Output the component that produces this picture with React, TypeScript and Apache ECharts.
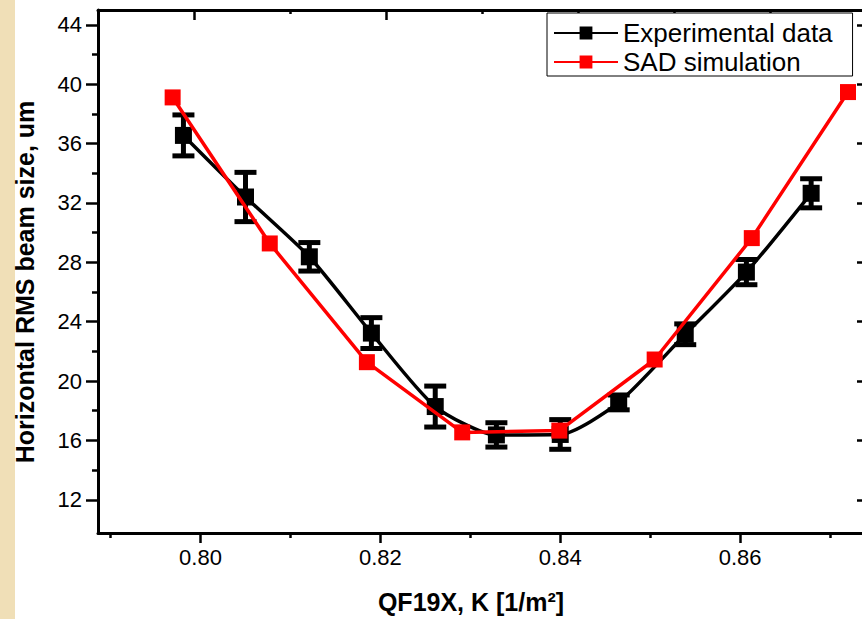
import React, { useEffect, useRef } from "react";
import * as echarts from "echarts";

// Experimental data (black) with error bars
const expX = [0.7981, 0.8050, 0.8121, 0.8190, 0.8261, 0.8329, 0.8400, 0.8465, 0.8539, 0.8607, 0.8679];
const expY = [36.55, 32.40, 28.37, 23.23, 18.28, 16.37, 16.40, 18.56, 23.15, 27.34, 32.65];
const expErr = [1.38, 1.66, 0.96, 1.04, 1.38, 0.82, 1.0, 0.5, 0.7, 0.85, 0.98];

// SAD simulation (red)
const simX = [0.7969, 0.8077, 0.8185, 0.8291, 0.8399, 0.8505, 0.8613, 0.8720];
const simY = [39.11, 29.27, 21.27, 16.54, 16.66, 21.45, 29.63, 39.47];

// Axis ticks
const xMajorTicks = [0.80, 0.82, 0.84, 0.86];
const xMinorTicks = [0.79, 0.81, 0.83, 0.85, 0.87];
const yMajorTicks = [12, 16, 20, 24, 28, 32, 36, 40, 44];
const yMinorTicks = [14, 18, 22, 26, 30, 34, 38, 42];
const topMajorTicks = [1, 3, 5, 7];
const topMinorTicks = [2, 4, 6];

const XMIN = 0.7886;
const XMAX = 0.874;
const YMIN = 9.76;
const YMAX = 45.0;

const FONT = "'Liberation Sans', Arial, sans-serif";

export default function App() {
  const ref = useRef<HTMLDivElement>(null);

  useEffect(() => {
    const chart = echarts.init(ref.current!, null, { renderer: "svg" });
    const gridRect = { left: 98, top: 10, right: -4, bottom: 86, outerBoundsMode: "none" as any };
    const axisLine = { show: true, lineStyle: { color: "#000", width: 3 } };
    const noLine = { show: false };

    const option: any = {
      animation: false,
      backgroundColor: "#fff",
      grid: [
        { ...gridRect },
        { ...gridRect },
      ],
      xAxis: [
        {
          gridIndex: 0, type: "value", position: "bottom", min: XMIN, max: XMAX,
          axisLine,
          axisTick: { show: true, customValues: xMajorTicks, length: 10, inside: false, lineStyle: { color: "#000", width: 2.5 } },
          axisLabel: {
            show: true, customValues: xMajorTicks, margin: 13, fontSize: 22, color: "#000", fontFamily: FONT,
            formatter: (v: number) => v.toFixed(2),
          },
          splitLine: { show: false },
        },
        {
          gridIndex: 0, type: "value", position: "top", min: 0, max: 8,
          axisLine,
          axisTick: { show: true, customValues: topMajorTicks, length: 10, inside: true, lineStyle: { color: "#000", width: 2.5 } },
          axisLabel: { show: false },
          splitLine: { show: false },
        },
        {
          gridIndex: 1, type: "value", position: "bottom", min: XMIN, max: XMAX,
          axisLine: noLine,
          axisTick: { show: true, customValues: xMinorTicks, length: 5, inside: false, lineStyle: { color: "#000", width: 2.5 } },
          axisLabel: { show: false },
          splitLine: { show: false },
        },
        {
          gridIndex: 1, type: "value", position: "top", min: 0, max: 8,
          axisLine: noLine,
          axisTick: { show: true, customValues: topMinorTicks, length: 4, inside: true, lineStyle: { color: "#000", width: 2.5 } },
          axisLabel: { show: false },
          splitLine: { show: false },
        },
      ],
      yAxis: [
        {
          gridIndex: 0, type: "value", position: "left", min: YMIN, max: YMAX,
          axisLine,
          axisTick: { show: true, customValues: yMajorTicks, length: 12, inside: false, lineStyle: { color: "#000", width: 2.5 } },
          axisLabel: { show: true, customValues: yMajorTicks, margin: 16, fontSize: 22, color: "#000", fontFamily: FONT },
          splitLine: { show: false },
        },
        {
          gridIndex: 0, type: "value", position: "right", min: YMIN, max: YMAX,
          axisLine,
          axisTick: { show: true, customValues: yMajorTicks, length: 9, inside: true, lineStyle: { color: "#000", width: 2.5 } },
          axisLabel: { show: false },
          splitLine: { show: false },
        },
        {
          gridIndex: 1, type: "value", position: "left", min: YMIN, max: YMAX,
          axisLine: noLine,
          axisTick: { show: true, customValues: yMinorTicks, length: 6, inside: false, lineStyle: { color: "#000", width: 2.5 } },
          axisLabel: { show: false },
          splitLine: { show: false },
        },
      ],
      legend: {
        data: ["Experimental data", "SAD simulation"],
        orient: "vertical",
        left: 547,
        top: 13,
        itemWidth: 64,
        itemHeight: 16,
        itemGap: 3,
        padding: [7, 20, 1, 6],
        borderColor: "#000",
        borderWidth: 1,
        borderRadius: 0,
        backgroundColor: "#fff",
        textStyle: { fontSize: 26, color: "#000", fontFamily: FONT },
      },
      series: [
        {
          name: "Experimental data",
          type: "line",
          xAxisIndex: 0,
          yAxisIndex: 0,
          data: expX.map((x, i) => [x, expY[i]]),
          smooth: 0.22,
          symbol: "rect",
          symbolSize: 17,
          color: "#000",
          itemStyle: { color: "#000" },
          lineStyle: { color: "#000", width: 3.5 },
          z: 2,
        },
        {
          name: "errbars",
          type: "custom",
          xAxisIndex: 0,
          yAxisIndex: 0,
          data: expX.map((x, i) => [x, expY[i], expErr[i]]),
          encode: { x: 0, y: 1 },
          z: 3,
          renderItem: (params: any, api: any) => {
            const x = api.value(0);
            const y = api.value(1);
            const e = api.value(2);
            const top = api.coord([x, y + e]);
            const bot = api.coord([x, y - e]);
            const capW = 22;
            const capH = 5;
            const stemW = 5;
            return {
              type: "group",
              children: [
                { type: "rect", shape: { x: top[0] - stemW / 2, y: top[1], width: stemW, height: bot[1] - top[1] }, style: { fill: "#000" } },
                { type: "rect", shape: { x: top[0] - capW / 2, y: top[1] - capH / 2, width: capW, height: capH }, style: { fill: "#000" } },
                { type: "rect", shape: { x: bot[0] - capW / 2, y: bot[1] - capH / 2, width: capW, height: capH }, style: { fill: "#000" } },
              ],
            };
          },
        },
        {
          name: "SAD simulation",
          type: "line",
          xAxisIndex: 0,
          yAxisIndex: 0,
          data: simX.map((x, i) => [x, simY[i]]),
          symbol: "rect",
          symbolSize: 16,
          color: "#ff0000",
          itemStyle: { color: "#ff0000" },
          lineStyle: { color: "#ff0000", width: 3.5 },
          z: 4,
        },
      ],
      graphic: [
        { type: "rect", left: 0, top: 0, shape: { x: 0, y: 0, width: 15, height: 619 }, style: { fill: "#f0dfb7" }, silent: true },
        {
          type: "text",
          x: 25,
          y: 282,
          rotation: Math.PI / 2,
          style: {
            text: "Horizontal RMS beam size, um",
            fontSize: 25,
            fontWeight: "bold",
            fontFamily: FONT,
            fill: "#000",
            align: "center",
            verticalAlign: "middle",
          },
        },
        {
          type: "text",
          x: 471,
          y: 602,
          style: {
            text: "QF19X, K [1/m²]",
            fontSize: 25,
            fontWeight: "bold",
            fontFamily: FONT,
            fill: "#000",
            align: "center",
            verticalAlign: "middle",
          },
        },
      ],
    };

    chart.setOption(option);
    return () => chart.dispose();
  }, []);

  return (
    <div
      ref={ref}
      style={{ position: "absolute", left: 0, top: 0, width: 862, height: 619, background: "#fff" }}
    />
  );
}
